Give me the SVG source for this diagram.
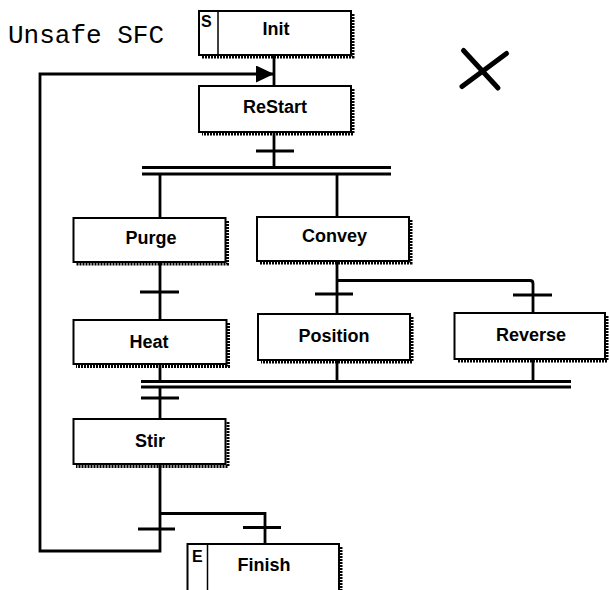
<svg xmlns="http://www.w3.org/2000/svg" width="609" height="590" viewBox="0 0 609 590">
<style>
.box{fill:#fff;stroke:#000;stroke-width:2}
.sh{fill:none;stroke:#000;stroke-width:3;stroke-dasharray:2 1}
.lbl{font-family:"Liberation Sans",Arial,sans-serif;font-weight:bold;font-size:18px;text-anchor:middle;fill:#000}
.tag{font-family:"Liberation Sans",Arial,sans-serif;font-size:16px;font-weight:bold;fill:#000}
.ln{fill:none;stroke:#000;stroke-width:2.8}
.tr{stroke:#000;stroke-width:3}
.title{font-family:"Liberation Mono","Courier New",monospace;font-size:26px;fill:#000}
</style>
<defs>
<marker id="arr" viewBox="0 0 18 17" refX="18" refY="8.5" markerWidth="18" markerHeight="17" markerUnits="userSpaceOnUse" orient="auto">
<path d="M0,0 L18,8.5 L0,17 z" fill="#000"/>
</marker>
</defs>
<text class="title" x="8" y="43">Unsafe SFC</text>
<g id="cross" stroke="#000" stroke-width="5" stroke-linecap="round">
<line x1="463.5" y1="50.5" x2="498" y2="88"/>
<line x1="506.5" y1="53.5" x2="462" y2="86.5"/>
</g>
<g id="connectors">
<line class="ln" x1="274" y1="55" x2="274" y2="87"/>
<polyline class="ln" points="160,464 160,551 40,551 40,74 274,74" marker-end="url(#arr)"/>
<line class="ln" x1="274" y1="132" x2="274" y2="168"/>
<line class="tr" x1="256" y1="151" x2="294" y2="151"/>
<line class="ln" x1="142" y1="167.5" x2="391" y2="167.5"/>
<line class="ln" x1="142" y1="174" x2="391" y2="174"/>
<line class="ln" x1="160" y1="174" x2="160" y2="218"/>
<line class="ln" x1="337" y1="174" x2="337" y2="217"/>
<line class="ln" x1="160" y1="262" x2="160" y2="320"/>
<line class="tr" x1="140" y1="292" x2="179" y2="292"/>
<line class="ln" x1="337" y1="261" x2="337" y2="314"/>
<path class="ln" d="M337,280.5 H530 Q533,280.5 533,283.5 V313"/>
<line class="tr" x1="315" y1="294" x2="353" y2="294"/>
<line class="tr" x1="513" y1="295" x2="552" y2="295"/>
<line class="ln" x1="160" y1="364" x2="160" y2="381"/>
<line class="ln" x1="337" y1="360" x2="337" y2="381"/>
<line class="ln" x1="533" y1="359" x2="533" y2="381"/>
<line class="ln" x1="141" y1="381.5" x2="571" y2="381.5"/>
<line class="ln" x1="141" y1="387" x2="571" y2="387"/>
<line class="ln" x1="160" y1="387" x2="160" y2="419"/>
<line class="tr" x1="141" y1="398" x2="179" y2="398"/>
<polyline class="ln" points="160,513.5 265,513.5 265,544"/>
<line class="tr" x1="138" y1="529" x2="175" y2="529"/>
<line class="tr" x1="243" y1="527.5" x2="281" y2="527.5"/>
</g>
<g id="init">
<polyline class="sh" points="353,14 353,57 202,57"/>
<rect class="box" x="199" y="11" width="152" height="44"/>
<line stroke="#000" stroke-width="1.5" x1="218" y1="11" x2="218" y2="55"/>
<text class="tag" x="201" y="27">S</text>
<text class="lbl" x="276" y="35">Init</text>
</g>
<g id="restart">
<polyline class="sh" points="353,89 353,134 202,134"/>
<rect class="box" x="199" y="86" width="152" height="46"/>
<text class="lbl" x="275" y="113">ReStart</text>
</g>
<g id="purge">
<polyline class="sh" points="227.5,221 227.5,264 76,264"/>
<rect class="box" x="73.5" y="218" width="152" height="44"/>
<text class="lbl" x="151" y="243.5">Purge</text>
</g>
<g id="convey">
<polyline class="sh" points="411,220 411,263 260,263"/>
<rect class="box" x="257" y="217" width="152" height="44"/>
<text class="lbl" x="334.5" y="242">Convey</text>
</g>
<g id="heat">
<polyline class="sh" points="228.5,323 228.5,366.5 76,366.5"/>
<rect class="box" x="73.5" y="320" width="153" height="44"/>
<text class="lbl" x="149" y="348">Heat</text>
</g>
<g id="position">
<polyline class="sh" points="412,317 412,362 261,362"/>
<rect class="box" x="258" y="314" width="152" height="46"/>
<text class="lbl" x="334" y="341.5">Position</text>
</g>
<g id="reverse">
<polyline class="sh" points="607,316 607,361 457,361"/>
<rect class="box" x="454.5" y="313" width="150.5" height="46"/>
<text class="lbl" x="531" y="341">Reverse</text>
</g>
<g id="stir">
<polyline class="sh" points="228,422 228,466.5 76,466.5"/>
<rect class="box" x="73.5" y="419" width="152" height="45"/>
<text class="lbl" x="150" y="446.5">Stir</text>
</g>
<g id="finish">
<polyline class="sh" points="341,547 341,592 190,592"/>
<rect class="box" x="187.5" y="544" width="151.5" height="50"/>
<line stroke="#000" stroke-width="1.5" x1="207.5" y1="544" x2="207.5" y2="594"/>
<text class="tag" x="192" y="562">E</text>
<text class="lbl" x="264" y="571">Finish</text>
</g>
</svg>
